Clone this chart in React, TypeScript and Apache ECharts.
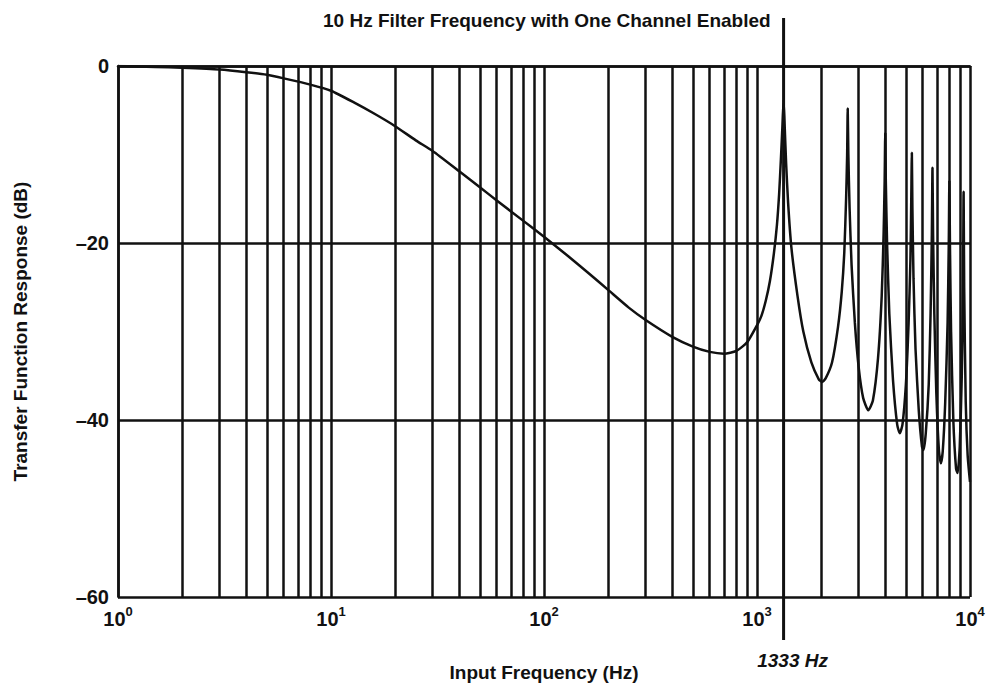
import React, { useEffect, useRef } from "react";
import * as echarts from "echarts";

const chartTitle = "10 Hz Filter Frequency with One Channel Enabled";
const xAxisTitle = "Input Frequency (Hz)";
const yAxisTitle = "Transfer Function Response (dB)";
const markerHz = 1333;
const markerLabel = "1333 Hz";

const freqHz = [
  1, 1.5, 2, 3, 4, 5, 6, 8, 10, 13, 16, 20, 25, 30, 40, 50, 60, 80, 100, 130, 160, 200, 250, 300, 400,
  500, 600, 700, 800, 900, 1000, 1050, 1100, 1150, 1200, 1240, 1270, 1295, 1315, 1333, 1350, 1370, 1400,
  1450, 1550, 1650, 1800, 1950, 2020, 2100, 2250, 2400, 2500, 2570, 2620, 2650, 2666, 2685, 2720, 2780,
  2880, 3000, 3150, 3330, 3500, 3700, 3850, 3930, 3975, 4000, 4025, 4080, 4180, 4350, 4550, 4680, 4820,
  5000, 5150, 5250, 5300, 5333, 5365, 5430, 5550, 5750, 5950, 6050, 6200, 6400, 6530, 6620, 6666, 6710,
  6800, 6950, 7150, 7300, 7450, 7650, 7850, 7950, 8000, 8050, 8150, 8350, 8600, 8750, 8950, 9150, 9270,
  9333, 9390, 9550, 9750, 10000,
];
const responseDb = [
  0, -0.1, -0.2, -0.4, -0.7, -1.0, -1.4, -2.1, -2.8, -4.2, -5.4, -6.8, -8.4, -9.6, -11.9, -13.7, -15.2,
  -17.5, -19.3, -21.5, -23.3, -25.3, -27.3, -28.7, -30.6, -31.7, -32.3, -32.5, -32.2, -31.2, -29.3, -28.2,
  -26.5, -24.3, -21.2, -18, -14.5, -10.5, -7, -3.8, -7, -11, -15.5, -20.5, -26, -30, -33.5, -35.4, -35.7,
  -35.3, -33.5, -29.5, -25.5, -21, -15, -10, -4.8, -10, -16, -22.5, -29, -34, -37.5, -38.9, -37.8, -33,
  -26, -19, -13, -7.6, -13, -20, -28, -35.5, -40.5, -41.5, -40.5, -36, -29, -22, -15, -9.8, -16, -24,
  -32, -39, -43, -43.4, -41.5, -36, -28, -19, -11.5, -19, -28, -37, -43.5, -44.9, -43.5, -38, -29, -20,
  -13, -20, -30, -40, -45.5, -46, -43, -35, -25, -14.2, -25, -38, -44, -47,
];
const minorGridHz = [
  2, 3, 4, 5, 6, 7, 8, 9, 20, 30, 40, 50, 60, 70, 80, 90, 200, 300, 400, 500, 600, 700, 800, 900, 2000,
  3000, 4000, 5000, 6000, 7000, 8000, 9000,
];
const yMin = -60;
const yMax = 0;
const yStep = 20;
const xMin = 1;
const xMax = 10000;

export default function App() {
  const ref = useRef<HTMLDivElement>(null);
  useEffect(() => {
    const chart = echarts.init(ref.current!, null, { renderer: "svg" });
    const font = "'Liberation Sans', Arial, sans-serif";
    const ink = "#111";
    chart.setOption({
      animation: false,
      backgroundColor: "#fff",
      title: {
        text: chartTitle,
        left: 318,
        top: 6,
        textStyle: { fontFamily: font, fontSize: 19, fontWeight: "bold", color: ink },
      },
      grid: { left: 118, right: 38, top: 66, bottom: 93, outerBoundsMode: "none" },
      xAxis: {
        type: "log",
        logBase: 10,
        min: xMin,
        max: xMax,
        name: xAxisTitle,
        nameLocation: "middle",
        nameGap: 66,
        nameTextStyle: { fontFamily: font, fontSize: 19, fontWeight: "bold", color: ink },
        axisLine: { show: true, lineStyle: { color: ink, width: 2.5 } },
        axisTick: { show: false },
        splitLine: { show: true, lineStyle: { color: ink, width: 2.5 } },
        axisLabel: {
          margin: 8,
          formatter: (v: number) => `{b|10}{s|${Math.round(Math.log10(v))}}`,
          rich: {
            b: { fontFamily: font, fontSize: 20, fontWeight: "bold", color: ink, verticalAlign: "bottom", lineHeight: 24 },
            s: { fontFamily: font, fontSize: 13, fontWeight: "bold", color: ink, verticalAlign: "top", lineHeight: 24 },
          },
        },
      },
      yAxis: {
        type: "value",
        min: yMin,
        max: yMax,
        interval: yStep,
        name: yAxisTitle,
        nameLocation: "middle",
        nameGap: 88,
        nameRotate: 90,
        nameTextStyle: { fontFamily: font, fontSize: 19, fontWeight: "bold", color: ink },
        axisLine: { show: true, lineStyle: { color: ink, width: 2.5 } },
        axisTick: { show: false },
        splitLine: { show: true, lineStyle: { color: ink, width: 2.5 } },
        axisLabel: {
          margin: 9,
          fontFamily: font,
          fontSize: 20,
          fontWeight: "bold",
          color: ink,
          formatter: (v: number) => String(v).replace("-", "\u2013"),
        },
      },
      series: [
        {
          type: "line",
          data: freqHz.map((f, i) => [f, responseDb[i]]),
          showSymbol: false,
          symbol: "none",
          smooth: 0.2,
          lineStyle: { color: ink, width: 2.5 },
          z: 5,
          markLine: {
            silent: true,
            symbol: ["none", "none"],
            label: { show: false },
            lineStyle: { color: ink, width: 2.5, type: "solid" },
            data: minorGridHz.map((v) => ({ xAxis: v })),
          },
        },
      ],
    });
    const px = chart.convertToPixel({ xAxisIndex: 0 }, markerHz) as number;
    chart.setOption({
      graphic: [
        {
          type: "line",
          shape: { x1: px, y1: 18, x2: px, y2: 640 },
          style: { stroke: ink, lineWidth: 3 },
          z: 10,
        },
        {
          type: "text",
          x: px + 9,
          y: 660,
          style: {
            text: markerLabel,
            font: `italic bold 19px ${font}`,
            fill: ink,
            align: "center",
            verticalAlign: "middle",
          },
          z: 10,
        },
      ],
    });
    return () => chart.dispose();
  }, []);
  return (
    <div
      ref={ref}
      style={{ position: "fixed", left: 0, top: 0, width: 1008, height: 690 }}
    />
  );
}
